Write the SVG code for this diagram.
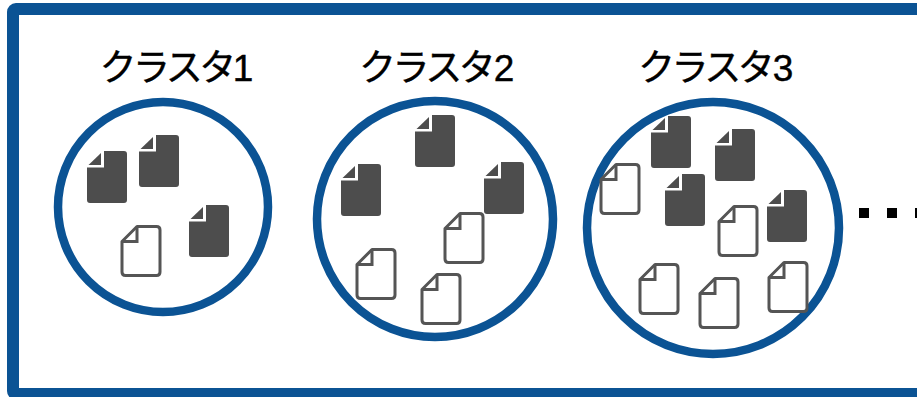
<svg xmlns="http://www.w3.org/2000/svg" width="917" height="397" viewBox="0 0 917 397">
<style>
.frame{fill:none;stroke:#0b5394;stroke-width:12}
.cluster{fill:#fff;stroke:#0b5394;stroke-width:8.500}
.label{font-family:"Liberation Sans","Noto Sans CJK JP",sans-serif;font-size:37px;letter-spacing:-3.500px;fill:#000;stroke:#000;stroke-width:.4}
.dot{fill:#000}
</style>
<defs>
<g id="dark">
<path d="M17 0H37Q40 0 40 3V49Q40 52 37 52H3Q0 52 0 49V16.500H17Z" fill="#4d4d4d"/>
<path d="M14 2V14H1.500Z" fill="#4d4d4d"/>
</g>
<g id="light">
<path d="M16 1.500H35.500Q39 1.500 39 5V47Q39 50.500 35.500 50.500H4.500Q1 50.500 1 47V16.500Z" fill="#fff" stroke="#555" stroke-width="3" stroke-linejoin="round"/>
<path d="M16 1.500V16.500H1" fill="none" stroke="#555" stroke-width="3"/>
</g>
</defs>
<rect width="917" height="397" fill="#fff"/>
<rect id="frame" class="frame" x="13" y="9" width="930" height="385" rx="3"/>
<g id="cluster1">
<text class="label" x="99.500" y="81">クラスタ1</text>
<circle class="cluster" cx="163" cy="207" r="105"/>
<use href="#dark" x="87" y="151"/><use href="#dark" x="139" y="135"/><use href="#dark" x="189" y="205"/>
<use href="#light" x="121" y="225"/>
</g>
<g id="cluster2">
<text class="label" x="359" y="81">クラスタ<tspan dx="1.500">2</tspan></text>
<circle class="cluster" cx="435" cy="219" r="118"/>
<use href="#dark" x="415" y="115"/><use href="#dark" x="341" y="164"/><use href="#dark" x="484" y="162"/>
<use href="#light" x="444" y="212"/><use href="#light" x="356" y="248"/><use href="#light" x="421" y="273"/>
</g>
<g id="cluster3">
<text class="label" x="638" y="81">クラスタ<tspan dx="1.500">3</tspan></text>
<circle class="cluster" cx="713" cy="228" r="126"/>
<use href="#dark" x="651" y="116"/><use href="#dark" x="715" y="129"/><use href="#dark" x="665" y="174"/><use href="#dark" x="767" y="190"/>
<use href="#light" x="600" y="163"/><use href="#light" x="718" y="205"/><use href="#light" x="639" y="263"/><use href="#light" x="699" y="277"/><use href="#light" x="768" y="261"/>
</g>
<g id="connectors">
<rect class="dot" x="859" y="208" width="10" height="10"/>
<rect class="dot" x="887" y="208" width="10" height="10"/>
<rect class="dot" x="915" y="208" width="10" height="10"/>
</g>
</svg>
